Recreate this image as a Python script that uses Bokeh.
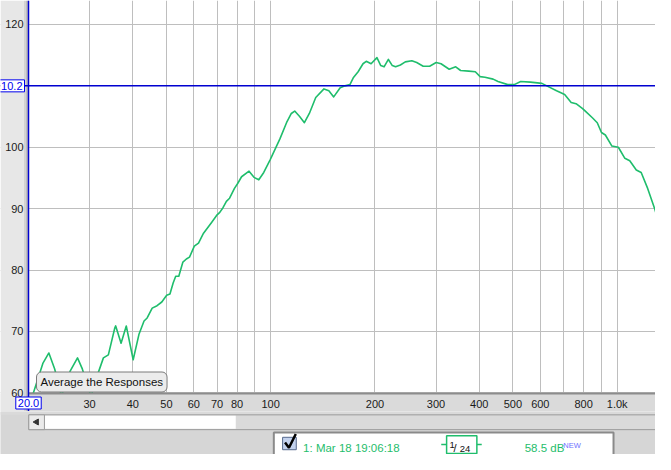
from bokeh.plotting import figure
from bokeh.models import Range1d, FixedTicker, Span, Label
from bokeh.layouts import column
from bokeh.core.properties import value
from bokeh.embed import file_html
from bokeh.resources import INLINE
import math

# ---------------- data ----------------
freq_hz = [20.0, 20.8, 22.0, 22.9, 23.8, 24.9, 26.4, 27.7, 28.6, 30.3,
           31.8, 32.9, 34.0, 35.5, 35.7, 37.0, 38.3, 40.1, 41.7, 43.1,
           44.0, 45.5, 47.0, 48.5, 50.1, 51.2, 52.3, 53.2, 54.3, 55.8,
           57.1, 58.3, 60.2, 61.9, 64.0, 67.6, 69.8, 71.3, 72.9, 74.5,
           76.1, 78.6, 80.3, 82.4, 86.6, 89.5, 92.4, 95.5, 99.7, 106.4,
           111.1, 114.7, 117.3, 121.2, 125.1, 129.3, 134.9, 142.5, 147.2, 152.0,
           158.7, 163.9, 169.3, 173.1, 178.8, 184.7, 188.7, 194.9, 202.6, 207.8,
           212.4, 218.6, 224.4, 229.3, 236.8, 244.6, 255.5, 263.9, 275.5, 287.6,
           300.3, 310.2, 327.5, 342.0, 353.2, 372.9, 389.5, 402.2, 415.4, 438.5,
           452.9, 483.3, 504.6, 526.8, 562.0, 606.4, 626.4, 668.4, 705.4, 736.6,
           760.9, 794.8, 812.0, 848.0, 876.0, 900.8, 924.5, 965.6, 1007.8, 1052.5,
           1087.2, 1135.4, 1173.0, 1224.5, 1284.4, 1292.0]

spl_db = [57.5, 60.5, 64.8, 66.5, 63.9, 59.5, 63.6, 65.7, 63.9, 59.4,
          63.3, 65.7, 66.2, 70.6, 70.9, 68.1, 70.9, 65.4, 69.6, 71.7,
          72.2, 73.8, 74.2, 74.8, 75.9, 76.1, 77.9, 79.0, 79.0, 81.3,
          81.8, 82.1, 83.9, 84.4, 86.0, 87.8, 88.9, 89.4, 90.2, 91.2,
          91.7, 93.3, 94.1, 95.2, 96.1, 95.1, 94.7, 95.9, 98.0, 101.4,
          104.0, 105.5, 105.9, 105.0, 104.0, 105.5, 108.1, 109.5, 109.2, 108.2,
          109.7, 110.0, 110.2, 111.3, 112.3, 113.6, 114.0, 113.6, 114.6, 113.3,
          113.1, 114.3, 113.3, 113.1, 113.4, 113.9, 114.1, 113.8, 113.2, 113.2,
          113.8, 113.6, 112.7, 113.1, 112.5, 112.4, 112.3, 111.5, 111.4, 111.1,
          110.7, 110.2, 110.2, 110.7, 110.6, 110.4, 110.0, 109.2, 108.6, 107.3,
          107.1, 106.3, 105.8, 104.8, 104.0, 102.4, 102.0, 100.2, 100.0, 98.2,
          97.8, 96.3, 95.9, 93.3, 89.9, 89.4]

x_grid_hz = [20, 30, 40, 50, 60, 70, 80, 90, 100, 200, 300, 400, 500,
             600, 700, 800, 900, 1000]
x_tick_labels = ["", "30", "40", "50", "60", "70", "80", "", "100", "200",
                 "300", "400", "500", "600", "", "800", "", "1.0k"]
y_ticks_db = [60, 70, 80, 90, 100, 110, 120]
y_tick_labels = ["60", "70", "80", "90", "100", "", "120"]

f_min, f_max = 20.0, 1290.0      # visible frequency span
db_min, db_max = 59.9, 123.9     # visible level span

cursor_freq = 20.0
cursor_freq_label = "20.0"
cursor_level = 110
cursor_level_label = "10.2"
button_text = "Average the Responses"
legend_name = "1: Mar 18 19:06:18"
smoothing_num, smoothing_den = "1", "24"
legend_level = "58.5 dB"
legend_flag = "NEW"

# ---------------- layout ----------------
W, H = 655, 454
main_h = 411          # canvas height of the chart part
left_px = 28          # gray panel left of the chart
bottom_px = 18        # gray axis strip below the chart
FONT = "Liberation Sans"
GREEN = "#1fbd6c"
BLUE = "#0000d0"

# the frame covers the whole canvas; the chart occupies [left_px, W] x [0, main_h-bottom_px]
dec_px = (W - left_px) / math.log10(f_max / f_min)
x_start = f_min / 10 ** (left_px / dec_px)
db_px = (main_h - bottom_px) / (db_max - db_min)
y_start = db_min - bottom_px / db_px


def px_to_freq(px):
    return f_min * 10 ** ((px - left_px) / dec_px)


def px_to_db(py):
    return db_max - py / db_px


p = figure(width=W, height=main_h, x_axis_type="log",
           x_range=Range1d(x_start, f_max), y_range=Range1d(y_start, db_max),
           output_backend="svg", toolbar_location=None,
           min_border=0)
p.background_fill_color = "white"
p.border_fill_color = "#e0e0e0"
p.outline_line_color = None

p.xaxis.fixed_location = db_min
p.yaxis.fixed_location = f_min
p.xaxis.bounds = (f_min, f_max)
p.xaxis.ticker = FixedTicker(ticks=x_grid_hz)
p.xgrid.ticker = FixedTicker(ticks=x_grid_hz)
p.xaxis.major_label_overrides = {t: s for t, s in zip(x_grid_hz, x_tick_labels)}
p.yaxis.ticker = FixedTicker(ticks=y_ticks_db)
p.ygrid.ticker = FixedTicker(ticks=y_ticks_db)
p.yaxis.major_label_overrides = {t: s for t, s in zip(y_ticks_db, y_tick_labels)}

for ax in (p.xaxis, p.yaxis):
    ax.major_tick_line_color = None
    ax.minor_tick_line_color = None
    ax.major_tick_out = 0
    ax.major_tick_in = 0
    ax.major_label_text_font = FONT
    ax.major_label_text_font_size = "11px"
    ax.major_label_text_color = "#1a1a1a"
p.xaxis.axis_line_color = "#8c8c8c"
p.xaxis.axis_line_width = 2
p.xaxis.major_label_standoff = 4
p.yaxis.axis_line_color = None
p.yaxis.major_label_standoff = 5

for g in (p.xgrid, p.ygrid):
    g.grid_line_color = "#bebebe"
    g.grid_line_width = 1
    g.minor_grid_line_color = None

# response curve
p.line(freq_hz, spl_db, line_color=GREEN, line_width=1.6, line_join="round")

# gray panels around the chart (window chrome)
p.quad(left=x_start, right=f_max, bottom=y_start, top=db_min,
       fill_color="#dadada", line_color=None)
p.quad(left=x_start, right=px_to_freq(23.5), bottom=y_start, top=db_max,
       fill_color="#e7e7e7", line_color=None)
p.quad(left=px_to_freq(23.5), right=px_to_freq(25.5), bottom=y_start, top=db_max,
       fill_color="#d3d3d3", line_color=None)
p.quad(left=px_to_freq(25.5), right=f_min, bottom=y_start, top=db_max,
       fill_color="#bdbdbd", line_color=None)

# cursors
p.add_layout(Span(location=cursor_level, dimension="width",
                  line_color=BLUE, line_width=1.5))
p.add_layout(Span(location=cursor_freq, dimension="height",
                  line_color=BLUE, line_width=1.5))

p.add_layout(Label(x=24, y=cursor_level, x_units="screen", text=cursor_level_label,
                   text_align="right", text_baseline="middle", text_font=FONT,
                   text_font_size="11px", text_color="#0000ee",
                   background_fill_color="white", border_line_color="#0000ee",
                   border_line_width=1, padding=2))
p.add_layout(Label(x=cursor_freq, y=px_to_db(main_h - bottom_px + 9.5),
                   text=cursor_freq_label,
                   text_align="center", text_baseline="middle", text_font=FONT,
                   text_font_size="11px", text_color="#0000ee",
                   background_fill_color="white", border_line_color="#0000ee",
                   border_line_width=1, padding=2))
p.add_layout(Label(x=left_px + 8, y=bottom_px + 11.5, x_units="screen", y_units="screen",
                   text=button_text,
                   text_align="left", text_baseline="middle", text_font=FONT,
                   text_font_size="11.5px", text_color="#111111",
                   background_fill_color="#ececec", border_line_color="#7a7a7a",
                   border_line_width=1, border_radius=5, padding=4))

# ---------------- bottom strip: scroll bar and legend ----------------
q = figure(width=W, height=H - main_h, x_range=Range1d(0, 671),
           y_range=Range1d(470, 425), output_backend="svg",
           toolbar_location=None, x_axis_location=None, y_axis_location=None,
           min_border=0)
q.background_fill_color = "#d6d6d6"
q.border_fill_color = "#d6d6d6"
q.outline_line_color = None
q.grid.visible = False

q.quad(left=0, right=671, top=425, bottom=428.5, fill_color="#dadada", line_color=None)
q.quad(left=29, right=671, top=428.5, bottom=444, fill_color="#dadada",
       line_color="#9a9a9a", line_width=1)
q.quad(left=45, right=241, top=429.5, bottom=443, fill_color="white", line_color=None)
q.quad(left=29, right=45, top=428.5, bottom=444, fill_color="#ebebeb",
       line_color="#9a9a9a", line_width=1)
q.scatter([37], [436], marker="triangle", size=6, angle=math.pi / 2,
          fill_color="#333333", line_color="#333333")

q.quad(left=280, right=628, top=447, bottom=472, fill_color="white",
       line_color="#8a8a8a", line_width=2)
q.quad(left=289, right=303, top=452, bottom=465, fill_color="#c3d2ee",
       line_color="#56698c", line_width=1)
q.line([291.5, 295.5, 302.5], [457.5, 463, 448.5], line_color="black", line_width=2.5)
q.text([310], [463.5], text=[legend_name], text_font=value(FONT),
       text_font_size="11.5px", text_color=GREEN, text_baseline="alphabetic")

q.line([451.5, 457], [459.5, 459.5], line_color=GREEN, line_width=1.5)
q.line([488, 493], [459.5, 459.5], line_color=GREEN, line_width=1.5)
q.quad(left=457, right=488, top=450.5, bottom=469, fill_color="white",
       line_color=GREEN, line_width=1.5)
q.text([460], [460.5], text=[smoothing_num], text_font=value(FONT),
       text_font_size="9.5px", text_color="#111111", text_baseline="alphabetic")
q.text([464], [463], text=["/"], text_font=value(FONT),
       text_font_size="11px", text_color="#111111", text_baseline="alphabetic")
q.text([470.5], [464.3], text=[smoothing_den], text_font=value(FONT),
       text_font_size="9.5px", text_color="#111111", text_baseline="alphabetic")

q.text([537], [463.5], text=[legend_level], text_font=value(FONT),
       text_font_size="11.5px", text_color=GREEN, text_baseline="alphabetic")
q.text([576.5], [460.5], text=[legend_flag], text_font=value(FONT),
       text_font_size="7.5px", text_color="#7070ff", text_baseline="alphabetic")

layout = column(p, q, spacing=0)
open("out.html", "w").write(file_html(layout, INLINE))
